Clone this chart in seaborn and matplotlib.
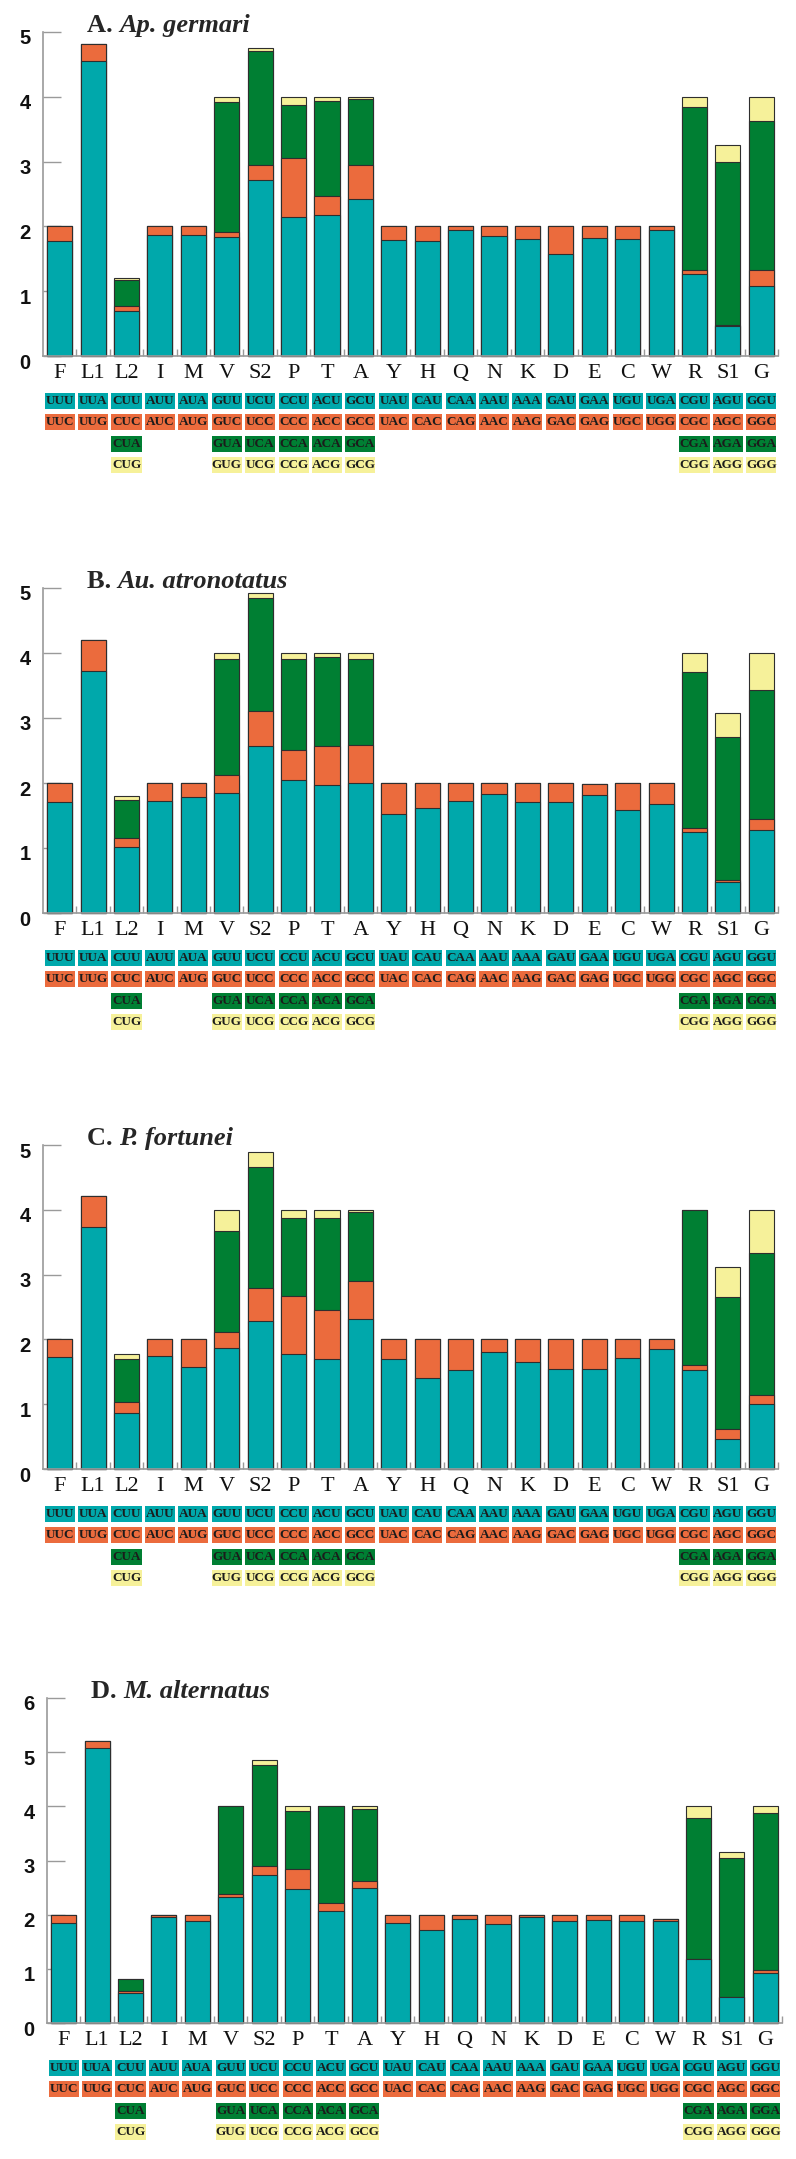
import numpy as np
import pandas as pd
import matplotlib
matplotlib.use("Agg")
import matplotlib.pyplot as plt
import matplotlib.transforms as mtransforms
from matplotlib.patches import Rectangle
import seaborn as sns

# ── data ─────────────────────────────────────────────
amino_acids = ["F", "L1", "L2", "I", "M", "V", "S2", "P", "T", "A", "Y",
               "H", "Q", "N", "K", "D", "E", "C", "W", "R", "S1", "G"]

codon_row1 = ["UUU", "UUA", "CUU", "AUU", "AUA", "GUU", "UCU", "CCU", "ACU", "GCU", "UAU",
              "CAU", "CAA", "AAU", "AAA", "GAU", "GAA", "UGU", "UGA", "CGU", "AGU", "GGU"]
codon_row2 = ["UUC", "UUG", "CUC", "AUC", "AUG", "GUC", "UCC", "CCC", "ACC", "GCC", "UAC",
              "CAC", "CAG", "AAC", "AAG", "GAC", "GAG", "UGC", "UGG", "CGC", "AGC", "GGC"]
codon_row3 = ["", "", "CUA", "", "", "GUA", "UCA", "CCA", "ACA", "GCA", "",
              "", "", "", "", "", "", "", "", "CGA", "AGA", "GGA"]
codon_row4 = ["", "", "CUG", "", "", "GUG", "UCG", "CCG", "ACG", "GCG", "",
              "", "", "", "", "", "", "", "", "CGG", "AGG", "GGG"]

# RSCU per codon position (1st, 2nd, 3rd, 4th codon of each amino acid)
a_teal = [1.78, 4.56, 0.70, 1.86, 1.86, 1.84, 2.71, 2.15, 2.18, 2.42, 1.79,
          1.77, 1.94, 1.85, 1.80, 1.57, 1.82, 1.81, 1.94, 1.26, 0.46, 1.08]
a_orange = [0.22, 0.25, 0.07, 0.14, 0.14, 0.08, 0.24, 0.90, 0.29, 0.53, 0.21,
            0.23, 0.06, 0.15, 0.20, 0.43, 0.18, 0.19, 0.06, 0.07, 0.02, 0.24]
a_green = [0, 0, 0.41, 0, 0, 2.00, 1.76, 0.83, 1.46, 1.01, 0,
           0, 0, 0, 0, 0, 0, 0, 0, 2.52, 2.51, 2.31]
a_yellow = [0, 0, 0.02, 0, 0, 0.08, 0.05, 0.12, 0.07, 0.04, 0,
            0, 0, 0, 0, 0, 0, 0, 0, 0.15, 0.26, 0.37]

b_teal = [1.71, 3.73, 1.02, 1.73, 1.78, 1.84, 2.57, 2.05, 1.97, 2.00, 1.53,
          1.61, 1.73, 1.83, 1.71, 1.71, 1.82, 1.58, 1.68, 1.24, 0.48, 1.28]
b_orange = [0.29, 0.47, 0.14, 0.27, 0.22, 0.29, 0.53, 0.46, 0.60, 0.59, 0.47,
            0.39, 0.27, 0.17, 0.29, 0.29, 0.16, 0.42, 0.32, 0.07, 0.03, 0.17]
b_green = [0, 0, 0.58, 0, 0, 1.78, 1.75, 1.40, 1.37, 1.32, 0,
           0, 0, 0, 0, 0, 0, 0, 0, 2.39, 2.20, 1.98]
b_yellow = [0, 0, 0.06, 0, 0, 0.09, 0.07, 0.09, 0.06, 0.09, 0,
            0, 0, 0, 0, 0, 0, 0, 0, 0.30, 0.37, 0.57]

c_teal = [1.73, 3.73, 0.87, 1.74, 1.58, 1.86, 2.28, 1.78, 1.70, 2.31, 1.69,
          1.40, 1.53, 1.80, 1.65, 1.55, 1.55, 1.71, 1.85, 1.53, 0.46, 1.00]
c_orange = [0.27, 0.48, 0.17, 0.26, 0.42, 0.26, 0.51, 0.89, 0.76, 0.59, 0.31,
            0.60, 0.47, 0.20, 0.35, 0.45, 0.45, 0.29, 0.15, 0.07, 0.16, 0.14]
c_green = [0, 0, 0.65, 0, 0, 1.56, 1.87, 1.20, 1.42, 1.06, 0,
           0, 0, 0, 0, 0, 0, 0, 0, 2.40, 2.04, 2.19]
c_yellow = [0, 0, 0.09, 0, 0, 0.32, 0.23, 0.13, 0.12, 0.04, 0,
            0, 0, 0, 0, 0, 0, 0, 0, 0.00, 0.45, 0.67]

d_teal = [1.84, 5.07, 0.55, 1.96, 1.88, 2.33, 2.73, 2.48, 2.07, 2.50, 1.84,
          1.71, 1.92, 1.82, 1.96, 1.88, 1.91, 1.89, 1.89, 1.19, 0.48, 0.93]
d_orange = [0.16, 0.13, 0.05, 0.04, 0.12, 0.06, 0.16, 0.37, 0.14, 0.13, 0.16,
            0.29, 0.08, 0.18, 0.04, 0.12, 0.09, 0.11, 0.03, 0.00, 0.00, 0.04]
d_green = [0, 0, 0.22, 0, 0, 1.61, 1.88, 1.07, 1.79, 1.33, 0,
           0, 0, 0, 0, 0, 0, 0, 0, 2.59, 2.57, 2.91]
d_yellow = [0, 0, 0, 0, 0, 0, 0.08, 0.08, 0, 0.04, 0,
            0, 0, 0, 0, 0, 0, 0, 0, 0.22, 0.11, 0.12]

panel_letters = ["A.", "B.", "C.", "D."]
species = ["Ap. germari", "Au. atronotatus", "P. fortunei", "M. alternatus"]
y_max = [5, 5, 5, 6]

# ── style ────────────────────────────────────────────
TEAL = "#00A8AB"
ORANGE = "#EB6B3D"
GREEN = "#007F33"
YELLOW = "#F6F19A"
EDGE = "#2e2e2e"
AXIS_GRAY = "#9a9a9a"
SERIF = "Liberation Serif"

sns.set_theme(style="white")
plt.rcParams["font.family"] = ["Liberation Sans", "DejaVu Sans"]

W, H = 796, 2159
fig = plt.figure(figsize=(W / 100, H / 100), dpi=100)

# axes boxes in pixels: (left, top, right, bottom)
boxes = [(43, 32, 778, 356), (43, 588, 778, 913), (43, 1145, 778, 1469), (47, 1698, 782, 2023)]

series = [
    (a_teal, a_orange, a_green, a_yellow),
    (b_teal, b_orange, b_green, b_yellow),
    (c_teal, c_orange, c_green, c_yellow),
    (d_teal, d_orange, d_green, d_yellow),
]
codon_rows = [codon_row1, codon_row2, codon_row3, codon_row4]
row_colors = [TEAL, ORANGE, GREEN, YELLOW]
row_offsets_px = [45, 66, 88, 109]

label_shift = mtransforms.ScaledTranslation(0, -5 / 100, fig.dpi_scale_trans)

for k, (l, t, r, b) in enumerate(boxes):
    ax = fig.add_axes([l / W, (H - b) / H, (r - l) / W, (b - t) / H])
    ax_h = b - t

    cum = np.vstack(series[k]).cumsum(axis=0)
    df = pd.DataFrame({"aa": amino_acids, "s1": cum[0], "s2": cum[1],
                       "s3": cum[2], "s4": cum[3]})

    # draw tallest (cumulative) first, then overlay lower segments
    for col, color in [("s4", YELLOW), ("s3", GREEN), ("s2", ORANGE), ("s1", TEAL)]:
        sns.barplot(data=df, x="aa", y=col, order=amino_acids, color=color,
                    saturation=1, width=0.75, edgecolor=EDGE, linewidth=0.8,
                    errorbar=None, clip_on=False, ax=ax)

    ax.set_xlim(-0.5, 21.5)
    ax.set_ylim(0, y_max[k])
    ax.set_xlabel("")
    ax.set_ylabel("")
    for s in ["top", "right"]:
        ax.spines[s].set_visible(False)
    for s in ["left", "bottom"]:
        ax.spines[s].set_color(AXIS_GRAY)
        ax.spines[s].set_linewidth(1.2)

    ax.set_yticks(range(y_max[k] + 1))
    ax.set_yticklabels([str(v) for v in range(y_max[k] + 1)],
                       fontsize=14.5, fontweight="bold", color="#111111")
    ax.tick_params(axis="y", direction="in", length=13, width=1,
                   color=AXIS_GRAY, pad=9, left=True)
    for lab in ax.get_yticklabels():
        lab.set_transform(lab.get_transform() + label_shift)

    ax.set_xticks(range(len(amino_acids)))
    ax.set_xticklabels(amino_acids, fontsize=16, family=SERIF, color="#111111")
    ax.tick_params(axis="x", which="major", length=0, pad=5.5)
    ax.set_xticks(np.arange(0.5, 22, 1), minor=True)
    ax.tick_params(axis="x", which="minor", direction="in", length=5,
                   width=1, color=AXIS_GRAY, bottom=True)

    # codon table below the axis
    trans = mtransforms.blended_transform_factory(ax.transData, ax.transAxes)
    box_h = 16 / ax_h
    for row, color, off in zip(codon_rows, row_colors, row_offsets_px):
        yc = -off / ax_h
        for i, cod in enumerate(row):
            if not cod:
                continue
            ax.add_patch(Rectangle((i - 0.45, yc - box_h / 2), 0.9, box_h,
                                   transform=trans, facecolor=color,
                                   edgecolor="none", clip_on=False))
            ax.text(i, yc, cod, transform=trans, ha="center", va="center",
                    fontsize=9.5, fontweight="bold", family=SERIF,
                    color="#1b1b1b", clip_on=False)

    # panel title: bold letter + bold italic species name
    t1 = ax.text(0.06, 1.0, panel_letters[k] + " ", transform=ax.transAxes,
                 fontsize=19, fontweight="bold", family=SERIF, va="baseline",
                 ha="left")
    ax.annotate(species[k], xy=(1, 0), xycoords=t1, va="bottom", ha="left",
                fontsize=19, fontweight="bold", fontstyle="italic", family=SERIF)

fig.savefig("out.png", dpi=100)
